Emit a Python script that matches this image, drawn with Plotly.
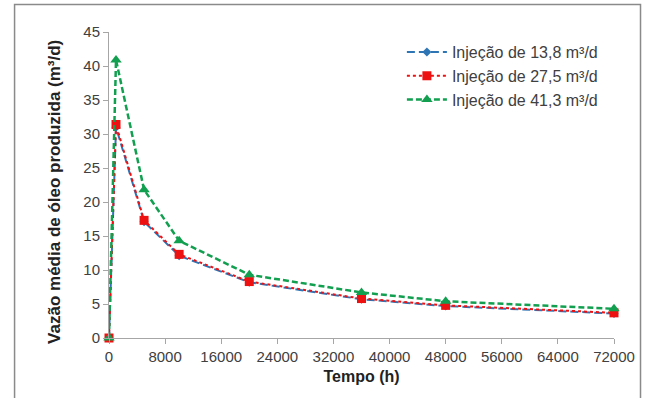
import plotly.graph_objects as go

tempo = [0, 1000, 5000, 10000, 20000, 36000, 48000, 72000]
inj_13_8 = [0, 31.0, 17.1, 12.1, 8.2, 5.7, 4.7, 3.6]
inj_27_5 = [0, 31.4, 17.3, 12.3, 8.3, 5.8, 4.8, 3.7]
inj_41_3 = [0, 40.9, 21.8, 14.3, 9.3, 6.7, 5.4, 4.3]

x_ticks = [0, 8000, 16000, 24000, 32000, 40000, 48000, 56000, 64000, 72000]
y_ticks = [0, 5, 10, 15, 20, 25, 30, 35, 40, 45]

names = ["Injeção de 13,8 m³/d", "Injeção de 27,5 m³/d", "Injeção de 41,3 m³/d"]
x_title = "Tempo (h)"
y_title = "Vazão média de óleo produzida (m³/d)"

fig = go.Figure()
fig.add_trace(go.Scatter(x=tempo, y=inj_13_8, name=names[0], mode="lines+markers",
                         line=dict(color="#2e75b6", width=2, dash="8px,4px"),
                         marker=dict(symbol="diamond", size=7, color="#2e75b6"),
                         cliponaxis=False))
fig.add_trace(go.Scatter(x=tempo, y=inj_27_5, name=names[1], mode="lines+markers",
                         line=dict(color="#ee1111", width=2, dash="dot"),
                         marker=dict(symbol="square", size=9, color="#ee1111"),
                         cliponaxis=False))
fig.add_trace(go.Scatter(x=tempo, y=inj_41_3, name=names[2], mode="lines+markers",
                         line=dict(color="#12a050", width=2.5, dash="6px,3px"),
                         marker=dict(symbol="triangle-up", size=10, color="#12a050"),
                         cliponaxis=False))

fig.update_layout(
    width=646, height=398,
    margin=dict(l=109, r=32, t=32, b=60),
    paper_bgcolor="white", plot_bgcolor="white",
    font=dict(family="Liberation Sans, Arial, sans-serif", size=15, color="#404040"),
    showlegend=True,
    legend=dict(x=0.58, y=0.99, xanchor="left", yanchor="top",
                font=dict(size=16, color="#404040"), bgcolor="rgba(0,0,0,0)",
                tracegroupgap=0, itemwidth=40),
    shapes=[dict(type="rect", xref="paper", yref="paper",
                 x0=-0.187, x1=1.0525, y0=-0.21, y1=1.09,
                 line=dict(color="#8a8a8a", width=1.5), fillcolor="rgba(0,0,0,0)",
                 layer="below")],
    annotations=[dict(text="<b>" + y_title + "</b>", xref="paper", yref="paper",
                      x=-0.108, y=0.479, xanchor="center", yanchor="middle",
                      textangle=-90, showarrow=False,
                      font=dict(size=17, color="#222222"))],
)
fig.update_xaxes(range=[0, 72000], tickvals=x_ticks, ticktext=[str(v) for v in x_ticks],
                 showgrid=False, zeroline=False, showline=True, linecolor="#a6a6a6",
                 linewidth=1, ticks="outside", tickcolor="#a6a6a6", ticklen=5,
                 tickfont=dict(size=15, color="#404040"),
                 title=dict(text="<b>" + x_title + "</b>", font=dict(size=16, color="#222222"), standoff=6))
fig.update_yaxes(range=[0, 45], tickvals=y_ticks,
                 showgrid=False, zeroline=False, showline=True, linecolor="#a6a6a6",
                 linewidth=1, ticks="outside", tickcolor="#a6a6a6", ticklen=5,
                 tickfont=dict(size=15, color="#404040"))

fig.write_html("out.html", config={"displayModeBar": False},
               post_script="document.body.style.margin='0px';")
